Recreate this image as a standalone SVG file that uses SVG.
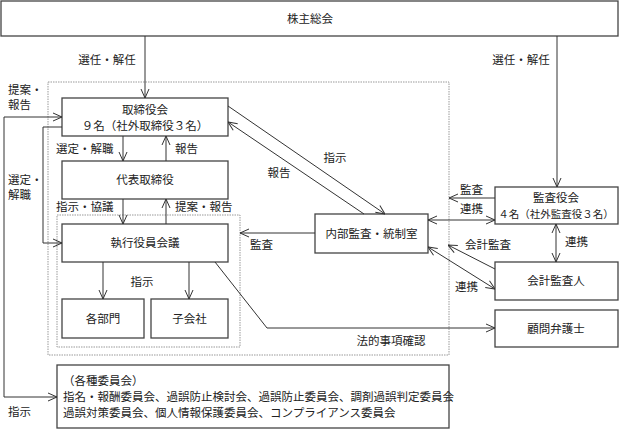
<svg xmlns="http://www.w3.org/2000/svg" width="620" height="430" viewBox="0 0 620 430">
<style>
.box{fill:#fff;stroke:#444;stroke-width:1.3}
.dot{fill:none;stroke:#999;stroke-width:1;stroke-dasharray:1.5 1}
.t{font-family:"Noto Sans CJK JP","Noto Sans",sans-serif;font-size:11.5px;fill:#222}
.s{font-size:10.5px}
.c{text-anchor:middle}
.ln{fill:none;stroke:#333;stroke-width:1}
.a{marker-end:url(#arr)}
.d{marker-start:url(#arr);marker-end:url(#arr)}
</style>
<defs>
<marker id="arr" viewBox="0 0 10 10" refX="10" refY="5" markerWidth="10" markerHeight="10" markerUnits="userSpaceOnUse" orient="auto-start-reverse">
<path d="M1,1 L10,5 L1,9" fill="none" stroke="#333" stroke-width="1"/>
</marker>
</defs>
<rect width="620" height="430" fill="#fff"/>
<g id="frames">
<rect class="dot" x="48" y="82" width="401" height="273"/>
<rect class="dot" x="57" y="215" width="183" height="132"/>
</g>
<g id="shareholders"><rect class="box" x="1" y="1" width="617" height="35"/><text class="t c" x="310" y="23">株主総会</text></g>
<g id="board"><rect class="box" x="62" y="98" width="166" height="38"/><text class="t c" x="145" y="114">取締役会</text><text class="t c" x="145" y="130">９名（社外取締役３名）</text></g>
<g id="rep"><rect class="box" x="62" y="161" width="166" height="38"/><text class="t c" x="145" y="184">代表取締役</text></g>
<g id="exec"><rect class="box" x="62" y="224" width="166" height="38"/><text class="t c" x="145" y="247">執行役員会議</text></g>
<g id="dept"><rect class="box" x="62" y="299" width="82" height="39"/><text class="t c" x="103" y="322.5">各部門</text></g>
<g id="sub"><rect class="box" x="151" y="299" width="77" height="39"/><text class="t c" x="189.5" y="322.5">子会社</text></g>
<g id="internal"><rect class="box" x="315" y="214" width="113" height="39"/><text class="t c" x="371.5" y="237.5">内部監査・統制室</text></g>
<g id="kansa"><rect class="box" x="495" y="187" width="123" height="37"/><text class="t c" x="556" y="202">監査役会</text><text class="t s c" x="556" y="218">４名（社外監査役３名）</text></g>
<g id="auditor"><rect class="box" x="495" y="262" width="123" height="38"/><text class="t c" x="556" y="285">会計監査人</text></g>
<g id="lawyer"><rect class="box" x="495" y="310" width="123" height="37"/><text class="t c" x="556" y="332.5">顧問弁護士</text></g>
<g id="committees"><rect class="box" x="57" y="365" width="392" height="63"/>
<text class="t" x="63" y="385">（各種委員会）</text>
<text class="t" x="63" y="401">指名・報酬委員会、過誤防止検討会、過誤防止委員会、調剤過誤判定委員会</text>
<text class="t" x="63" y="417">過誤対策委員会、個人情報保護委員会、コンプライアンス委員会</text></g>
<g id="connectors">
<path class="ln a" d="M145,36 V98"/>
<path class="ln a" d="M557,36 V187"/>
<path class="ln a" d="M123,136 V161"/>
<path class="ln a" d="M166,161 V136"/>
<path class="ln a" d="M123,199 V224"/>
<path class="ln a" d="M166,224 V199"/>
<path class="ln a" d="M103,262 V299"/>
<path class="ln a" d="M189,262 V299"/>
<path class="ln d" d="M57,397 H4 V117 H62"/>
<path class="ln a" d="M62,127 H43 V243 H62"/>
<path class="ln a" d="M215,262 L267,328 H495"/>
<path class="ln a" d="M228,106 L385,214"/>
<path class="ln a" d="M364,214 L228,122"/>
<path class="ln a" d="M315,233 H240"/>
<path class="ln a" d="M495,198 H449"/>
<path class="ln d" d="M428,220 H495"/>
<path class="ln d" d="M556,224 V262"/>
<path class="ln a" d="M495,269 L448,245"/>
<path class="ln d" d="M428,247 L495,289"/>
</g>
<g id="labels">
<text class="t c" x="107" y="64">選任・解任</text>
<text class="t c" x="521" y="64">選任・解任</text>
<text class="t" x="8" y="94">提案・</text>
<text class="t" x="8" y="109">報告</text>
<text class="t" x="8" y="184">選定・</text>
<text class="t" x="8" y="199">解職</text>
<text class="t" x="8" y="416">指示</text>
<text class="t" x="56" y="153">選定・解職</text>
<text class="t" x="175" y="153">報告</text>
<text class="t" x="56" y="211">指示・協議</text>
<text class="t" x="175" y="211">提案・報告</text>
<text class="t c" x="142" y="286">指示</text>
<text class="t" x="250" y="249">監査</text>
<text class="t c" x="335" y="162">指示</text>
<text class="t c" x="279" y="177">報告</text>
<text class="t c" x="391" y="345">法的事項確認</text>
<text class="t" x="460" y="194">監査</text>
<text class="t" x="460" y="213">連携</text>
<text class="t" x="565" y="246">連携</text>
<text class="t" x="465" y="249">会計監査</text>
<text class="t" x="455" y="291">連携</text>
</g>
</svg>
